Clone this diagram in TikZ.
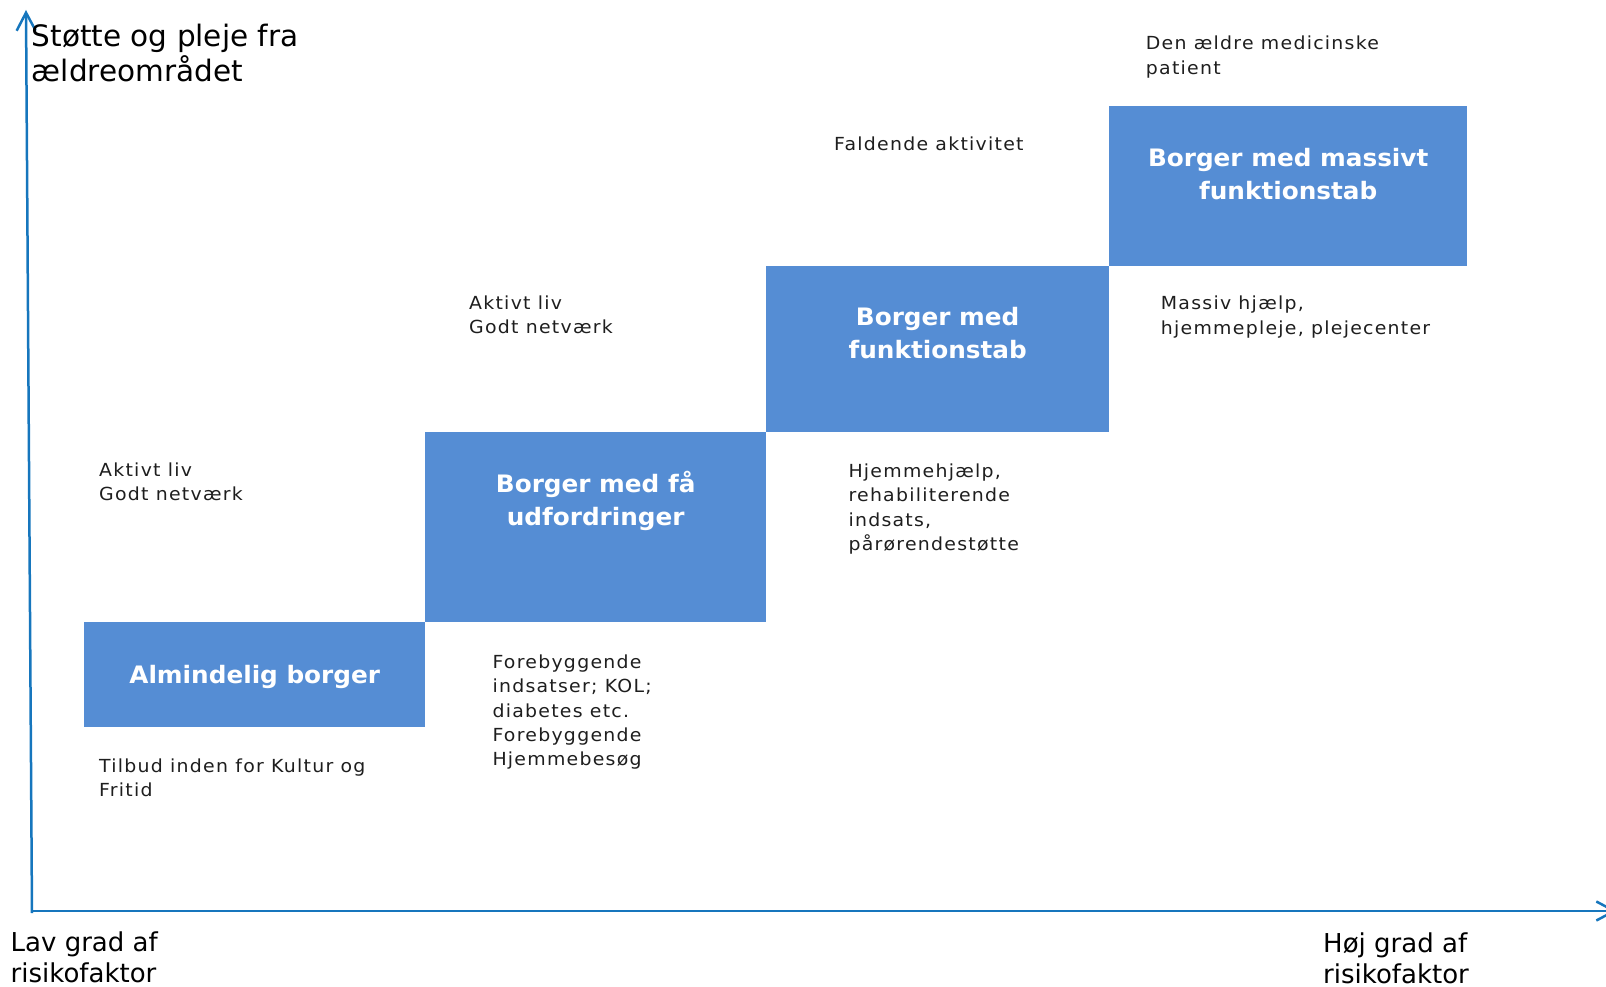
\documentclass[tikz,border=0pt]{standalone}
\usepackage{fontspec}
\setmainfont{DejaVu Sans}
\newfontfamily\axisfont{DejaVu Sans}
\newfontfamily\notefont[FakeStretch=1.05,LetterSpace=7]{DejaVu Sans}
\newfontfamily\boxfont[FakeStretch=1.03]{DejaVu Sans}
\usetikzlibrary{arrows.meta}
\definecolor{axisblue}{RGB}{22,118,189}
\definecolor{boxblue}{RGB}{85,141,212}
\definecolor{notegray}{RGB}{30,30,30}
\begin{document}
\begin{tikzpicture}[x=1pt,y=-1pt,
  stepbox/.style={fill=boxblue, draw=none, inner sep=0pt, anchor=north west},
  boxtext/.style={anchor=north, align=center, inner sep=0pt, text=white,
    font=\boxfont\bfseries\fontsize{24}{32.5}\selectfont, execute at begin node=\strut},
  note/.style={anchor=north west, align=left, inner sep=0pt, text=notegray,
    font=\notefont\fontsize{18}{24.3}\selectfont, execute at begin node=\strut},
  axislabel/.style={anchor=north west, align=left, inner sep=0pt, text=black, execute at begin node=\strut},
  axisline/.style={draw=axisblue, line width=2.5pt, -{Straight Barb[length=18pt,width=19pt]}}]
\useasboundingbox (0,0) rectangle (1606,987);
\clip (0,0) rectangle (1606,987);

% steps
\node[stepbox, minimum width=341pt, minimum height=105pt] (b1) at (84,622) {};
\node[stepbox, minimum width=341pt, minimum height=190pt] (b2) at (425,432) {};
\node[stepbox, minimum width=343pt, minimum height=166pt] (b3) at (766,266) {};
\node[stepbox, minimum width=358pt, minimum height=160pt] (b4) at (1109,106) {};

\node[boxtext] (t1) at ([yshift=-39pt]b1.north) {Almindelig borger};
\node[boxtext] (t2) at ([yshift=-39.3pt]b2.north) {Borger med få\\udfordringer};
\node[boxtext] (t3) at ([yshift=-41.4pt]b3.north) {Borger med\\funktionstab};
\node[boxtext] (t4) at ([yshift=-42.4pt]b4.north) {Borger med massivt\\funktionstab};

% axes
\coordinate (ybase) at (32,913);
\coordinate (ytip) at (26,10);
\coordinate (xbase) at (32,911);
\coordinate (xtip) at (1617,911);
\draw[axisline] (ybase) -- (ytip);
\draw[axisline] (xbase) -- (xtip);

% axis labels
\node[axislabel, font=\axisfont\fontsize{29.5}{35}\selectfont] (ylab) at (31.7,24.2) {Støtte og pleje fra\\ældreområdet};
\node[axislabel, font=\axisfont\fontsize{26}{31}\selectfont] (lowlab) at (10.5,932) {Lav grad af\\risikofaktor};
\node[axislabel, font=\axisfont\fontsize{26}{31}\selectfont] (highlab) at (1323,932.6) {Høj grad af\\risikofaktor};

% notes
\node[note] (n1) at (99,462.7) {Aktivt liv\\Godt netværk};
\node[note] (n2) at (469,295.8) {Aktivt liv\\Godt netværk};
\node[note] (n3) at (834,133.3) {Faldende aktivitet};
\node[note] (n4) at (1145.7,36) {Den ældre medicinske\\patient};
\node[note] (n5) at (1160.7,296) {Massiv hjælp,\\hjemmepleje, plejecenter};
\node[note] (n6) at (848.3,463.7) {Hjemmehjælp,\\rehabiliterende\\indsats,\\pårørendestøtte};
\node[note] (n7) at (492.3,654.7) {Forebyggende\\indsatser; KOL;\\diabetes etc.\\Forebyggende\\Hjemmebesøg};
\node[note] (n8) at (99,758.7) {Tilbud inden for Kultur og\\Fritid};
\end{tikzpicture}
\end{document}
